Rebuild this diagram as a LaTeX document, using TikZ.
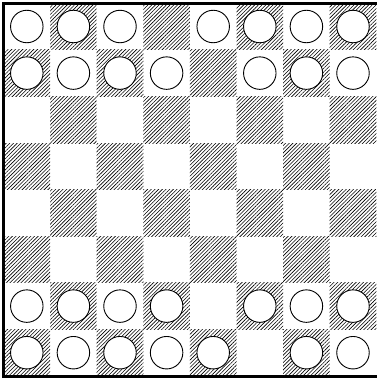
\documentclass[tikz,border=0pt]{standalone}
\usetikzlibrary{patterns.meta}
\tikzset{
  hatchcell/.style={pattern={Lines[angle=45,distance=2.6pt,line width=0.6pt]}, pattern color=black},
  piece/.style={circle, draw=black, line width=0.9pt, fill=white, minimum size=32.5pt, inner sep=0pt},
  frame/.style={draw=black, line width=3pt}
}
\begin{document}
\begin{tikzpicture}[x=1pt,y=-1pt]
\useasboundingbox (0,0) rectangle (376,381);
\def\sx{46.6}
\def\sy{46.6}
\def\ox{3.5}
\def\oy{3.2}
% hatched squares
\foreach \r in {1,...,8}{
  \foreach \c in {1,...,8}{
    \pgfmathtruncatemacro\odd{mod(\r+\c,2)}
    \ifnum\odd=1
      \path[hatchcell] ({\ox+(\c-1)*\sx},{\oy+(\r-1)*\sy}) rectangle ++(\sx,\sy);
    \fi
  }
}
% frame
\draw[frame] (\ox,\oy) rectangle (379,{\oy+8*\sy});
% pieces
\foreach \r/\c in {1/1,1/2,1/3,1/5,1/6,1/7,1/8,
                   2/1,2/2,2/3,2/4,2/6,2/7,2/8,
                   7/1,7/2,7/3,7/4,7/6,7/7,7/8,
                   8/1,8/2,8/3,8/4,8/5,8/7,8/8}{
  \node[piece] (p\r\c) at ({\ox+(\c-0.5)*\sx},{\oy+(\r-0.5)*\sy}) {};
}
\end{tikzpicture}
\end{document}
